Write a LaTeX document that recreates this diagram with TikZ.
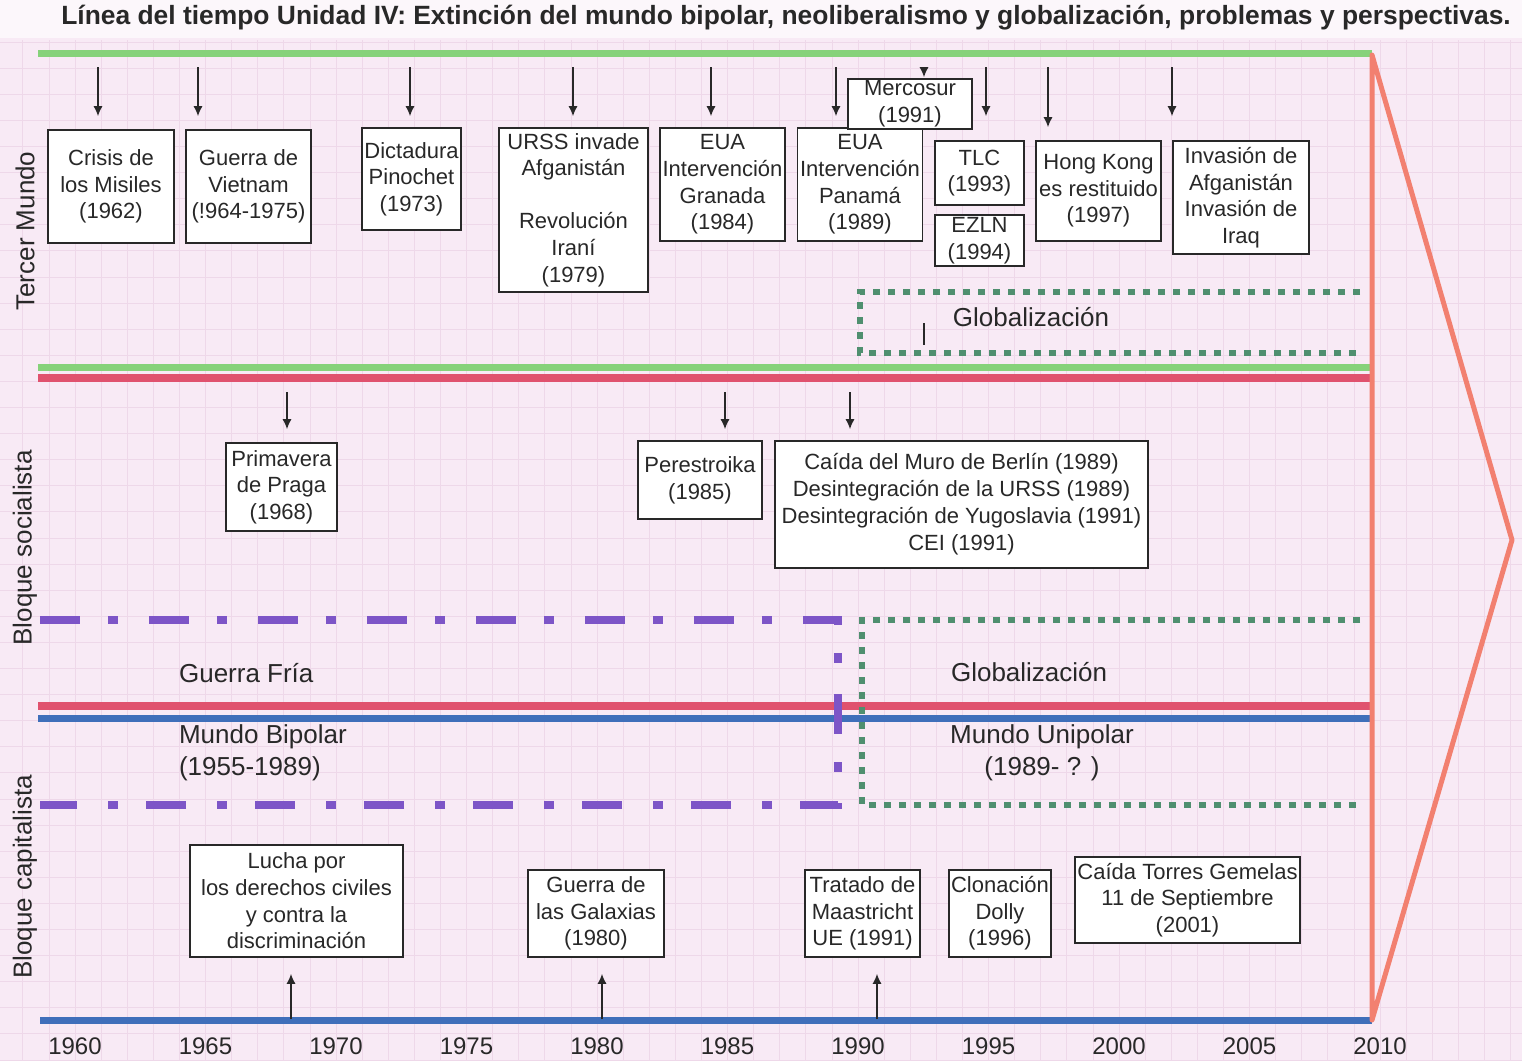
\documentclass[tikz,border=0pt]{standalone}
\usepackage{fontspec}
\setmainfont{Liberation Sans}
\usetikzlibrary{arrows.meta}
\definecolor{papel}{RGB}{248,234,245}
\definecolor{rejillaC}{RGB}{238,216,233}
\definecolor{verdeL}{RGB}{134,210,122}
\definecolor{rojoL}{RGB}{224,82,110}
\definecolor{azulL}{RGB}{63,111,186}
\definecolor{salmon}{RGB}{242,128,112}
\definecolor{morado}{RGB}{125,85,199}
\definecolor{verdeP}{RGB}{79,143,111}
\definecolor{tinta}{RGB}{40,40,40}
\tikzset{
  caja/.style={draw=tinta, line width=0.8pt, fill=white, inner sep=1pt, align=center,
    font=\fontsize{11}{13.3}\selectfont, text=tinta},
  flecha/.style={-{Latex[length=5pt,width=4.5pt]}, line width=0.7pt, draw=tinta},
  etiqueta/.style={font=\fontsize{13}{16}\selectfont, text=tinta},
  rejilla/.style={draw=rejillaC, line width=0.4pt},
  guerrafria/.style={draw=morado, line width=4pt, dash pattern=on 20pt off 14pt on 5pt off 15.5pt},
  globdots/.style={draw=verdeP, line width=3pt, dash pattern=on 3.5pt off 4pt}
}
\begin{document}
\begin{tikzpicture}[x=0.5pt,y=-0.5pt]
  \useasboundingbox (0,0) rectangle (1522,1061);
  % papel cuadriculado
  \fill[papel] (0,0) rectangle (1522,1061);
  \fill[white!60!papel] (0,0) rectangle (1522,38);
  \foreach \i in {0,...,58}
    \draw[rejilla] (-3.3+26.1*\i,40) -- (-3.3+26.1*\i,1061);
  \foreach \j in {0,...,39}
    \draw[rejilla] (0,42+26.1*\j) -- (1522,42+26.1*\j);

  % titulo
  \node[font=\fontsize{13.2}{15}\selectfont\bfseries, text=tinta] (titulo) at (786,18)
    {Línea del tiempo Unidad IV: Extinción del mundo bipolar, neoliberalismo y globalización, problemas y perspectivas.};

  % lineas de los bloques
  \draw[verdeL, line width=3.5pt] (38,53) -- (1372,53);
  \draw[verdeL, line width=3.5pt] (38,367) -- (1372,367);
  \draw[rojoL, line width=4pt] (38,378) -- (1372,378);
  \draw[rojoL, line width=4pt] (38,706) -- (1372,706);
  \draw[azulL, line width=3.5pt] (38,718) -- (1372,718);
  \draw[azulL, line width=3.5pt] (40,1020) -- (1372,1020);

  % guerra fria y globalizacion
  \draw[guerrafria] (40,620) -- (838,620) -- (838,805) -- (40,805);
  \draw[globdots] (1360,620) -- (862,620) -- (862,805) -- (1360,805);
  \draw[globdots] (1360,292) -- (860,292) -- (860,353) -- (1360,353);
  \draw[tinta, line width=0.8pt] (924,323) -- (924,345);

  % flecha grande
  \draw[salmon, line width=2.5pt, line join=round] (1372,1020) -- (1372,55) -- (1512,540) -- cycle;

  % bloques (texto vertical)
  \node[etiqueta, rotate=90] (tercer) at (25,231) {Tercer Mundo};
  \node[etiqueta, rotate=90] (socialista) at (25,548) {Bloque socialista};
  \node[etiqueta, rotate=90] (capitalista) at (25,877) {Bloque capitalista};

  % Tercer Mundo
  \node[caja, minimum width=63pt, minimum height=56.5pt] (crisis) at (111,186.5) {Crisis de\\los Misiles\\(1962)};
  \node[caja, minimum width=62.5pt, minimum height=56.5pt] (vietnam) at (248.5,186.5) {Guerra de\\Vietnam\\(!964-1975)};
  \node[caja, minimum width=49.5pt, minimum height=51pt] (pinochet) at (411.5,179) {Dictadura\\Pinochet\\(1973)};
  \node[caja, minimum width=74.5pt, minimum height=82pt] (urss) at (573.5,210) {URSS invade\\Afganistán\\[13.3pt]Revolución\\Iraní\\(1979)};
  \node[caja, minimum width=62.5pt, minimum height=56.5pt] (granada) at (722.5,184.5) {EUA\\Intervención\\Granada\\(1984)};
  \node[caja, minimum width=62.5pt, minimum height=56.5pt] (panama) at (860,184.5) {EUA\\Intervención\\Panamá\\(1989)};
  \node[caja, minimum width=62pt, minimum height=25pt, inner sep=0pt] (mercosur) at (910,104) {Mercosur\\(1991)};
  \node[caja, minimum width=44.5pt, minimum height=32pt] (tlc) at (979.5,173) {TLC\\(1993)};
  \node[caja, minimum width=44.5pt, minimum height=25.5pt, inner sep=0pt] (ezln) at (979.5,240.5) {EZLN\\(1994)};
  \node[caja, minimum width=62.5pt, minimum height=50pt] (hongkong) at (1098.5,191) {Hong Kong\\es restituido\\(1997)};
  \node[caja, minimum width=68pt, minimum height=56.5pt] (iraq) at (1241,197.5) {Invasión de\\Afganistán\\Invasión de\\Iraq};
  \node[etiqueta] (glob1) at (1031,317) {Globalización};

  \foreach \x/\b/\s in {98/crisis/6.5, 198/vietnam/6.5, 410/pinochet/5.5, 573/urss/5.5,
      711/granada/5.5, 836/panama/5.5, 924/mercosur/0.5, 986/tlc/12, 1048/hongkong/6.5, 1172/iraq/12}
    \draw[flecha, shorten >=\s pt] (\x,67) -- (\x,0 |- \b.north);

  % Bloque socialista
  \node[caja, minimum width=55.5pt, minimum height=44pt] (praga) at (281.5,487) {Primavera\\de Praga\\(1968)};
  \node[caja, minimum width=62pt, minimum height=39pt] (perestroika) at (700,480) {Perestroika\\(1985)};
  \node[caja, minimum width=186.5pt, minimum height=63.5pt, font=\fontsize{11}{13.5}\selectfont] (berlin) at (961.5,504.5)
    {Caída del Muro de Berlín (1989)\\Desintegración de la URSS (1989)\\Desintegración de Yugoslavia (1991)\\CEI (1991)};

  \foreach \x/\b/\s in {287/praga/6.5, 725/perestroika/5.5, 850/berlin/5.5}
    \draw[flecha, shorten >=\s pt] (\x,392) -- (\x,0 |- \b.north);

  % guerra fria / globalizacion
  \node[etiqueta, anchor=west] (guerra) at (172,673) {Guerra Fría};
  \node[etiqueta, anchor=west, align=left] (bipolar) at (172,753) {Mundo Bipolar\\(1955-1989)};
  \node[etiqueta, anchor=west] (glob2) at (944,672) {Globalización};
  \node[etiqueta, align=center] (unipolar) at (1042,753) {Mundo Unipolar\\(1989- ? )};

  % Bloque capitalista
  \node[caja, minimum width=106.5pt, minimum height=56pt] (derechos) at (296.5,901) {Lucha por\\los derechos civiles\\y contra la\\discriminación};
  \node[caja, minimum width=68pt, minimum height=43.5pt] (galaxias) at (596,913.5) {Guerra de\\las Galaxias\\(1980)};
  \node[caja, minimum width=57.5pt, minimum height=43.5pt] (maastricht) at (862.5,913.5) {Tratado de\\Maastricht\\UE (1991)};
  \node[caja, minimum width=50pt, minimum height=43.5pt] (dolly) at (1000,913.5) {Clonación\\Dolly\\(1996)};
  \node[caja, minimum width=112.5pt, minimum height=43pt] (torres) at (1187.5,900) {Caída Torres Gemelas\\11 de Septiembre\\(2001)};

  \foreach \x/\b in {291/derechos, 602/galaxias, 877/maastricht}
    \draw[flecha, shorten >=8pt] (\x,1019) -- (\x,0 |- \b.south);

  % años
  \foreach \i/\a in {0/1960, 1/1965, 2/1970, 3/1975, 4/1980, 5/1985, 6/1990, 7/1995, 8/2000, 9/2005, 10/2010}
    \node[font=\fontsize{12}{14}\selectfont, text=tinta] (y\a) at (75+130.5*\i,1046) {\a};
\end{tikzpicture}
\end{document}
